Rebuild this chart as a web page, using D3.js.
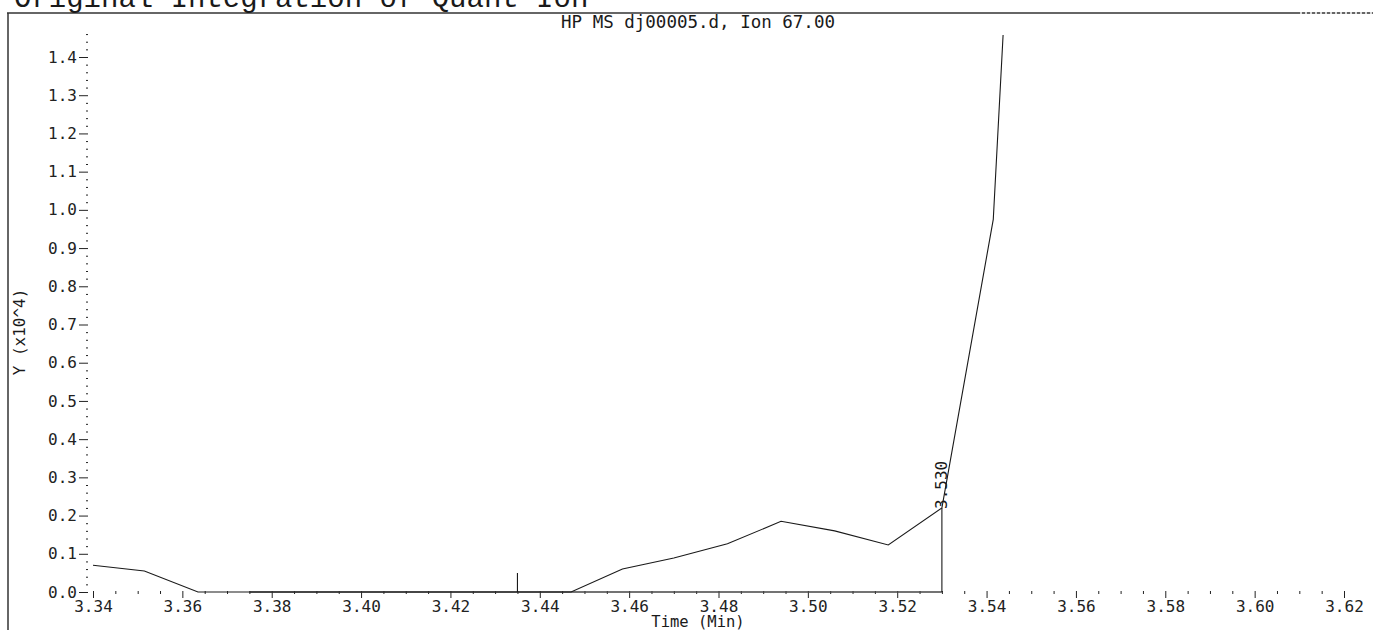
<!DOCTYPE html>
<html>
<head>
<meta charset="utf-8">
<script src="https://cdn.jsdelivr.net/npm/d3@7"></script>
<style>
  html, body { margin: 0; padding: 0; background: #fff; }
  svg { display: block; }
  .axis text { font-family: "DejaVu Sans Mono", monospace; font-size: 16px; fill: #222; }
  .axis line { stroke: #222; stroke-width: 1; }
</style>
</head>
<body>
<svg id="chart" width="1373" height="630"></svg>
<script>
// ---- text ----
const pageTitle = "Original Integration of Quant Ion";
const traceTitle = "HP MS dj00005.d, Ion 67.00";
const xAxisTitle = "Time (Min)";
const yAxisTitle = "Y (x10^4)";

// ---- ion 67 trace: retention time (min) and abundance (x10^4) ----
const scanTimes = [3.340, 3.3515, 3.3635, 3.375, 3.387, 3.399, 3.411, 3.423, 3.435, 3.447,
                   3.4585, 3.470, 3.482, 3.494, 3.506, 3.518, 3.530, 3.5415, 3.553];
const scanAbundance = [0.070, 0.055, 0.000, 0.000, 0.000, 0.000, 0.000, 0.000, 0.000, 0.000,
                       0.060, 0.089, 0.126, 0.185, 0.160, 0.123, 0.220, 0.975, 3.500];

// ---- integration marks ----
const peakTimes = [3.530];
const peakHeights = [0.220];
const peakLabels = ["3.530"];
const baselineTimes = [3.375, 3.530];
const baselineValues = [0.0, 0.0];
const startMarkTimes = [3.435];
const startMarkHeights = [0.05];

// ---- ticks ----
const xTickValues = [3.34, 3.36, 3.38, 3.40, 3.42, 3.44, 3.46, 3.48, 3.50, 3.52, 3.54, 3.56, 3.58, 3.60, 3.62];
const xTickLabels = ["3.34", "3.36", "3.38", "3.40", "3.42", "3.44", "3.46", "3.48", "3.50", "3.52", "3.54", "3.56", "3.58", "3.60", "3.62"];
const yTickValues = [0.0, 0.1, 0.2, 0.3, 0.4, 0.5, 0.6, 0.7, 0.8, 0.9, 1.0, 1.1, 1.2, 1.3, 1.4];
const yTickLabels = ["0.0", "0.1", "0.2", "0.3", "0.4", "0.5", "0.6", "0.7", "0.8", "0.9", "1.0", "1.1", "1.2", "1.3", "1.4"];

const svg = d3.select("#chart");
const ink = "#1a1a1a";

const x = d3.scaleLinear().domain([3.34, 3.62]).range([93, 1344]);
const y = d3.scaleLinear().domain([0, 1.4]).range([592, 57]);
const yAxisX = 88;
const xAxisY = 591;
const frameTop = 13;

// frame: top rule and left rule
svg.append("line").attr("x1", 7).attr("x2", 1373).attr("y1", frameTop).attr("y2", frameTop)
  .attr("stroke", "#333").attr("stroke-width", 1.3);
svg.append("line").attr("x1", 1300).attr("x2", 1373).attr("y1", frameTop).attr("y2", frameTop)
  .attr("stroke", "#fff").attr("stroke-width", 1.4).attr("stroke-dasharray", "2,3");
svg.append("line").attr("x1", 8).attr("x2", 8).attr("y1", frameTop).attr("y2", 630)
  .attr("stroke", "#333").attr("stroke-width", 1.5);

// page heading, cut by the top edge
svg.append("text").attr("x", 14).attr("y", 7)
  .attr("font-family", "Liberation Mono, Courier New, monospace")
  .attr("font-size", 29).attr("fill", ink).text(pageTitle);

// trace heading
svg.append("text").attr("x", 698).attr("y", 28).attr("text-anchor", "middle")
  .attr("font-family", "DejaVu Sans Mono, monospace").attr("font-size", 17.5)
  .attr("fill", ink).text(traceTitle);

// x axis: labelled majors + minor ticks every 0.005
const xAxis = d3.axisBottom(x)
  .tickValues(xTickValues)
  .tickFormat((d, i) => xTickLabels[i])
  .tickSize(7).tickPadding(3);
const gx = svg.append("g").attr("class", "axis").attr("transform", `translate(0,${xAxisY})`).call(xAxis);
gx.select(".domain").remove();

const xMinor = d3.range(0, 57).map(i => 3.34 + i * 0.005).filter(v => Math.abs((v - 3.34) / 0.02 - Math.round((v - 3.34) / 0.02)) > 1e-6);
const xMinorAxis = d3.axisBottom(x).tickValues(xMinor).tickFormat("").tickSize(3);
const gxm = svg.append("g").attr("class", "axis").attr("transform", `translate(0,${xAxisY})`).call(xMinorAxis);
gxm.select(".domain").remove();

// y axis: labelled majors + minor ticks every 0.02
const yAxis = d3.axisLeft(y)
  .tickValues(yTickValues)
  .tickFormat((d, i) => yTickLabels[i])
  .tickSize(9).tickPadding(2);
const gy = svg.append("g").attr("class", "axis").attr("transform", `translate(${yAxisX},0)`).call(yAxis);
gy.select(".domain").remove();

const yMinor = d3.range(0, 74).map(i => i * 0.02).filter(v => Math.abs(v * 10 - Math.round(v * 10)) > 1e-6);
const yMinorAxis = d3.axisLeft(y).tickValues(yMinor).tickFormat("").tickSize(2);
const gym = svg.append("g").attr("class", "axis").attr("transform", `translate(${yAxisX},0)`).call(yMinorAxis);
gym.select(".domain").remove();

// axis titles
svg.append("text").attr("x", 698).attr("y", 627).attr("text-anchor", "middle")
  .attr("font-family", "DejaVu Sans Mono, monospace").attr("font-size", 15.5)
  .attr("fill", ink).text(xAxisTitle);
svg.append("text").attr("transform", "translate(25,332) rotate(-90)").attr("text-anchor", "middle")
  .attr("font-family", "DejaVu Sans Mono, monospace").attr("font-size", 16)
  .attr("fill", ink).text(yAxisTitle);

// plot area clip
svg.append("clipPath").attr("id", "plotClip")
  .append("rect").attr("x", 89).attr("y", 35).attr("width", 1284).attr("height", 595);

const plot = svg.append("g").attr("clip-path", "url(#plotClip)");

// integration baseline
const baseline = baselineTimes.map((t, i) => [t, baselineValues[i]]);
plot.append("path")
  .attr("d", d3.line().x(d => x(d[0])).y(d => y(d[1]))(baseline))
  .attr("fill", "none").attr("stroke", "#444").attr("stroke-width", 1.6);

// trace
const trace = scanTimes.map((t, i) => [t, scanAbundance[i]]);
plot.append("path")
  .attr("d", d3.line().x(d => x(d[0])).y(d => y(d[1]))(trace))
  .attr("fill", "none").attr("stroke", ink).attr("stroke-width", 1.1);

// integration start mark
startMarkTimes.forEach((t, i) => {
  plot.append("line").attr("x1", x(t)).attr("x2", x(t))
    .attr("y1", y(0)).attr("y2", y(startMarkHeights[i]))
    .attr("stroke", ink).attr("stroke-width", 1.1);
});

// integration end drop line and retention-time label
peakTimes.forEach((t, i) => {
  plot.append("line").attr("x1", x(t)).attr("x2", x(t))
    .attr("y1", y(0)).attr("y2", y(peakHeights[i]))
    .attr("stroke", ink).attr("stroke-width", 1.1);
  svg.append("text")
    .attr("transform", `translate(${x(t) + 5},${y(peakHeights[i]) + 1}) rotate(-90)`)
    .attr("font-family", "DejaVu Sans Mono, monospace").attr("font-size", 16)
    .attr("fill", ink).text(peakLabels[i]);
});
</script>
</body>
</html>
